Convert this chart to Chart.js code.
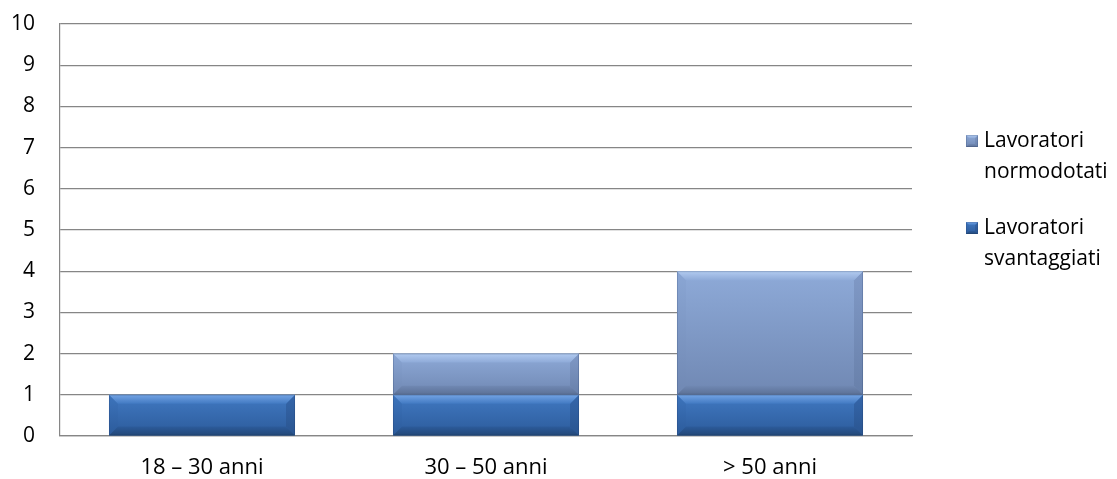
<!DOCTYPE html>
<html>
<head>
<meta charset="utf-8">
<script src="https://cdn.jsdelivr.net/npm/chart.js@4.4.1/dist/chart.umd.min.js"></script>
<style>
  html, body { margin: 0; padding: 0; background: #ffffff; }
  #wrap { width: 1117px; height: 479px; position: relative; }
</style>
</head>
<body>
<div id="wrap"><canvas id="chart" width="1117" height="479"></canvas></div>
<script>
// Age bands and head counts per worker group
const categories = ['18 – 30 anni', '30 – 50 anni', '> 50 anni'];
const svantaggiati = [1, 1, 1];
const normodotati = [0, 1, 3];
const seriesNames = ['Lavoratori svantaggiati', 'Lavoratori normodotati'];
const legendLines = [['Lavoratori', 'normodotati'], ['Lavoratori', 'svantaggiati']];
const yMax = 10;

const FONT = '"Open Sans", "Noto Sans", sans-serif';

// Shading for each series: body top / body bottom / bevel top / bevel bottom / sides
const palette = {
  svantaggiati: { top: '#4179c2', bottom: '#2c5b9b', hi: '#74a4e4', lo: '#234878', left: '#3d74bc', right: '#3566aa', rightLo: '#2a5590' },
  normodotati:  { top: '#8eaad8', bottom: '#7088b3', hi: '#b2cbf0', lo: '#5b7095', left: '#8aa6d4', right: '#8099c6', rightLo: '#6880aa' }
};

function poly(ctx, pts, fill) {
  ctx.beginPath();
  ctx.moveTo(pts[0][0], pts[0][1]);
  for (let i = 1; i < pts.length; i++) ctx.lineTo(pts[i][0], pts[i][1]);
  ctx.closePath();
  ctx.fillStyle = fill;
  ctx.fill();
}

// Draws a bevelled block inside the given rectangle
function bevelBox(ctx, l, t, r, b, p, depth) {
  const h = b - t, w = r - l;
  if (h <= 0.5 || w <= 0.5) return;
  const d = Math.min(depth, h / 2, w / 2);
  const g = ctx.createLinearGradient(0, t, 0, b);
  g.addColorStop(0, p.top);
  g.addColorStop(1, p.bottom);
  ctx.fillStyle = g;
  ctx.fillRect(l, t, w, h);

  const gl = ctx.createLinearGradient(0, t, 0, b);
  gl.addColorStop(0, p.left); gl.addColorStop(1, p.bottom);
  poly(ctx, [[l, t], [l + d, t + d], [l + d, b - d], [l, b]], gl);
  const gr = ctx.createLinearGradient(0, t, 0, b);
  gr.addColorStop(0, p.right); gr.addColorStop(1, p.rightLo);
  poly(ctx, [[r, t], [r - d, t + d], [r - d, b - d], [r, b]], gr);

  const gh = ctx.createLinearGradient(0, t, 0, t + d);
  gh.addColorStop(0, p.hi); gh.addColorStop(1, p.top);
  poly(ctx, [[l, t], [r, t], [r - d, t + d], [l + d, t + d]], gh);

  const gb = ctx.createLinearGradient(0, b - d, 0, b);
  gb.addColorStop(0, p.bottom); gb.addColorStop(1, p.lo);
  poly(ctx, [[l, b], [r, b], [r - d, b - d], [l + d, b - d]], gb);

  ctx.strokeStyle = 'rgba(30,50,90,0.2)';
  ctx.lineWidth = 1;
  ctx.strokeRect(l + 0.5, t + 0.5, w - 1, h - 1);
}

const bevelBars = {
  id: 'bevelBars',
  afterDatasetsDraw(chart) {
    const ctx = chart.ctx;
    ctx.save();
    chart.data.datasets.forEach((ds, i) => {
      const meta = chart.getDatasetMeta(i);
      const p = palette[ds.key];
      meta.data.forEach(bar => {
        const half = bar.width / 2;
        const top = Math.min(bar.y, bar.base);
        const bottom = Math.max(bar.y, bar.base);
        bevelBox(ctx, bar.x - half, top, bar.x + half, bottom, p, 9);
      });
    });
    ctx.restore();
  }
};

// Legend to the right of the plot, with two-line labels
const sideLegend = {
  id: 'sideLegend',
  afterDraw(chart) {
    const ctx = chart.ctx;
    const area = chart.chartArea;
    const x0 = area.right + 54;
    const midY = (area.top + area.bottom) / 2;
    const rows = [
      { p: palette.normodotati, lines: legendLines[0] },
      { p: palette.svantaggiati, lines: legendLines[1] }
    ];
    const lineH = 31, gap = 87;
    const startY = midY - 89;
    ctx.save();
    ctx.textBaseline = 'middle';
    rows.forEach((row, i) => {
      const y = startY + i * gap;
      bevelBox(ctx, x0, y - 6, x0 + 12, y + 6, row.p, 3);
      ctx.font = '21px ' + FONT;
      ctx.fillStyle = '#000000';
      row.lines.forEach((ln, j) => ctx.fillText(ln, x0 + 18, y + j * lineH));
    });
    ctx.restore();
  }
};

new Chart(document.getElementById('chart'), {
  type: 'bar',
  data: {
    labels: categories,
    datasets: [
      { key: 'svantaggiati', label: seriesNames[0], data: svantaggiati,
        backgroundColor: 'rgba(0,0,0,0)', barPercentage: 0.655, categoryPercentage: 1 },
      { key: 'normodotati', label: seriesNames[1], data: normodotati,
        backgroundColor: 'rgba(0,0,0,0)', barPercentage: 0.655, categoryPercentage: 1 }
    ]
  },
  options: {
    responsive: false,
    animation: false,
    layout: { padding: { top: 24, right: 205, left: 0, bottom: 0 } },
    plugins: { legend: { display: false }, tooltip: { enabled: false } },
    scales: {
      x: {
        stacked: true,
        afterFit(scale) { scale.height = 43; },
        grid: { display: false, drawTicks: false },
        border: { color: '#868686', width: 1.2 },
        ticks: { padding: 19, color: '#000', font: { family: FONT, size: 22 } }
      },
      y: {
        stacked: true,
        min: 0,
        max: yMax,
        afterFit(scale) {
          scale.width = 60;
          scale.paddingTop = 0;
          scale.paddingBottom = 0;
        },
        grid: { color: '#868686', lineWidth: 1.2, drawTicks: false },
        border: { color: '#868686', width: 1.2 },
        ticks: { stepSize: 1, padding: 25, color: '#000', font: { family: FONT, size: 21 } }
      }
    }
  },
  plugins: [bevelBars, sideLegend]
});
</script>
</body>
</html>
